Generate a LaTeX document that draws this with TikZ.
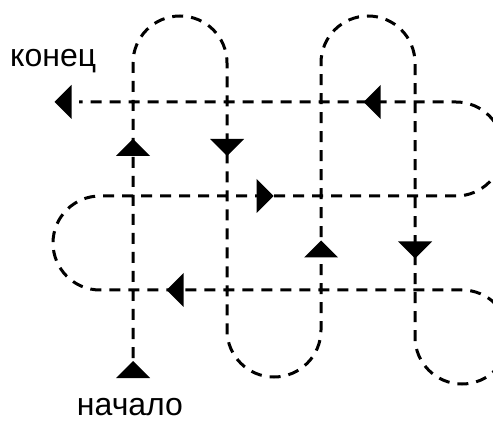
\documentclass[tikz,border=0pt]{standalone}
\usepackage{fontspec}
\setmainfont{Liberation Sans}
\begin{document}
\begin{tikzpicture}[x=1pt,y=-1pt,
  route/.style={line width=3pt,dash pattern=on 11pt off 8pt},
  lbl/.style={inner sep=0pt,font=\fontsize{32}{38}\selectfont},
  tri/.pic={\fill (8.5,0) -- (-8.5,17) -- (-8.5,-17) -- cycle;}]
\useasboundingbox (0,0) rectangle (493,422);
% path corners
\coordinate (s) at (133,358);
\coordinate (a1) at (133,63);
\coordinate (a2) at (227,330);
\coordinate (a3) at (321,63);
\coordinate (a4) at (415,337);
\coordinate (a5) at (100,290);
\coordinate (a6) at (456,196);
\coordinate (e) at (79,102);
\draw[route] (s) -- (a1)
  arc[start angle=180,end angle=360,radius=47] -- (a2)
  arc[start angle=180,end angle=0,radius=47] -- (a3)
  arc[start angle=180,end angle=360,radius=47] -- (a4)
  arc[start angle=180,end angle=-90,radius=47] -- (a5)
  arc[start angle=90,end angle=270,radius=47] -- (a6)
  arc[start angle=90,end angle=-90,radius=47] -- (e);
% arrowheads
\pic[rotate=90] at (133,369.5) {tri};
\pic[rotate=90] at (133,147.5) {tri};
\pic[rotate=-90] at (227,147.5) {tri};
\pic[rotate=90] at (321,249) {tri};
\pic[rotate=-90] at (415,250) {tri};
\pic[rotate=180] at (175,290) {tri};
\pic at (265,196) {tri};
\pic[rotate=180] at (372,102) {tri};
\pic[rotate=180] at (63,102) {tri};
% labels
\node[lbl,anchor=base west] (end) at (10,67) {конец};
\node[lbl,anchor=base] (start) at (130,415) {начало};
\end{tikzpicture}
\end{document}
